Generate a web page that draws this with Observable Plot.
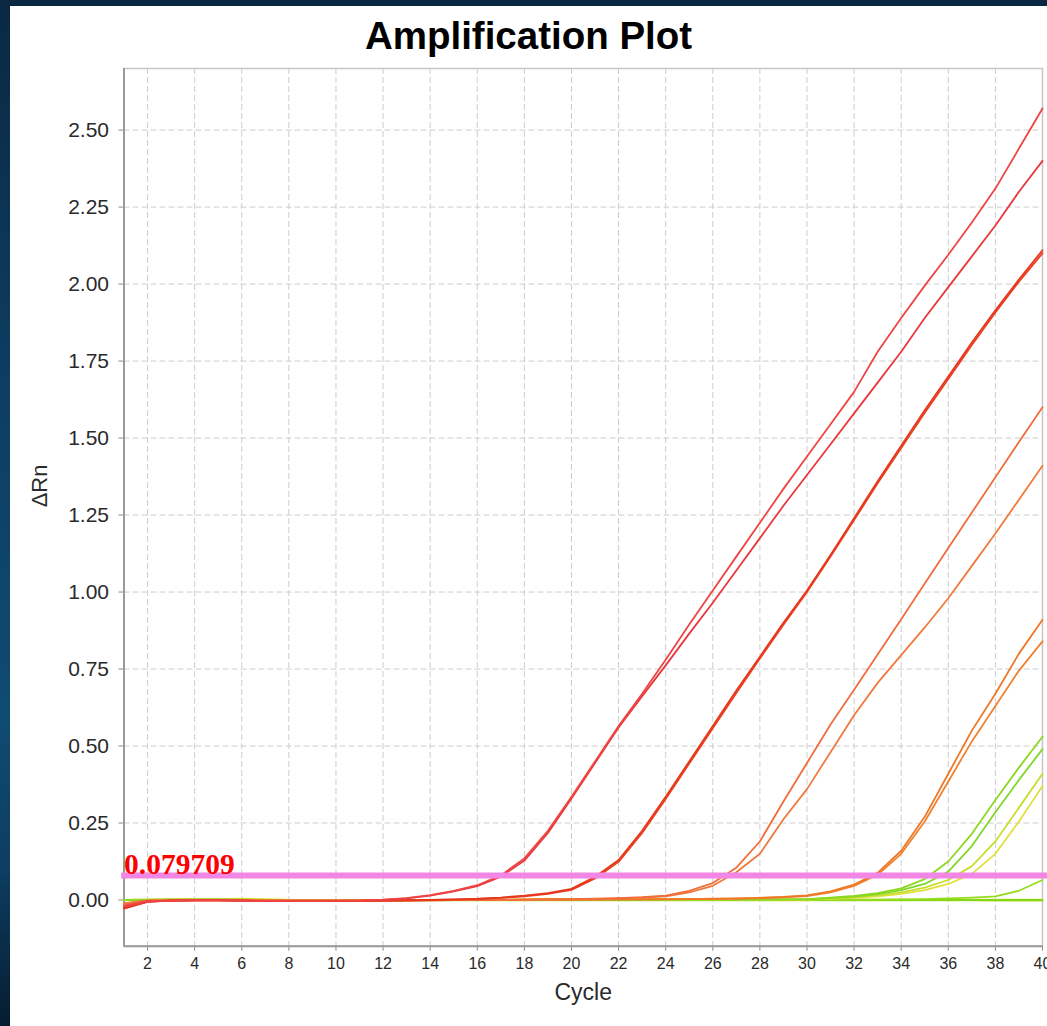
<!DOCTYPE html>
<html>
<head>
<meta charset="utf-8">
<script src="https://cdn.jsdelivr.net/npm/d3@7"></script>
<script src="https://cdn.jsdelivr.net/npm/@observablehq/plot@0.6"></script>
<style>
  html, body { margin: 0; padding: 0; width: 1047px; height: 1026px; overflow: hidden; }
  body {
    position: relative;
    background: linear-gradient(to bottom, #0a2842 0%, #0d3c60 35%, #0f4b73 70%, #0d3d60 85%, #061c30 100%);
    font-family: "Liberation Sans", Arial, sans-serif;
  }
  #panel { position: absolute; left: 10px; top: 6px; right: 0; bottom: 0; background: #ffffff; }
  #title {
    position: absolute; left: 10px; right: 0; top: 14px; height: 44px; line-height: 44px;
    text-align: center; font-size: 38.5px; font-weight: bold; color: #000;
  }
  #chart { position: absolute; left: 0; top: 60px; }
</style>
</head>
<body>
<div id="panel"></div>
<div id="title">Amplification Plot</div>
<div id="chart"></div>
<script>
// ---- data ----
const cycles = [1,2,3,4,5,6,7,8,9,10,11,12,13,14,15,16,17,18,19,20,21,22,23,24,25,26,27,28,29,30,31,32,33,34,35,36,37,38,39,40];
const xTicks = [2,4,6,8,10,12,14,16,18,20,22,24,26,28,30,32,34,36,38,40];
const yTicks = [0, 0.25, 0.5, 0.75, 1.0, 1.25, 1.5, 1.75, 2.0, 2.25, 2.5];
const threshold = 0.079709;

const wellA1 = [-0.020,-0.004,-0.002,-0.001,-0.001,-0.002,-0.003,-0.003,-0.003,-0.003,-0.002,0.001,0.006,0.016,0.030,0.048,0.080,0.135,0.225,0.335,0.450,0.565,0.670,0.780,0.895,1.005,1.115,1.225,1.335,1.440,1.545,1.650,1.780,1.890,1.995,2.095,2.200,2.310,2.440,2.570];
const wellA2 = [-0.024,-0.005,-0.002,-0.001,-0.001,-0.002,-0.003,-0.003,-0.003,-0.003,-0.002,0.000,0.005,0.014,0.028,0.045,0.076,0.128,0.218,0.330,0.445,0.560,0.662,0.762,0.865,0.965,1.070,1.175,1.280,1.380,1.480,1.580,1.680,1.780,1.890,1.990,2.090,2.190,2.300,2.400];
const wellB1 = [-0.026,-0.005,-0.002,-0.001,-0.001,-0.002,-0.003,-0.003,-0.003,-0.003,-0.003,-0.002,-0.001,0.000,0.002,0.004,0.008,0.014,0.022,0.036,0.075,0.130,0.225,0.335,0.450,0.565,0.680,0.790,0.900,1.005,1.120,1.240,1.360,1.475,1.590,1.700,1.810,1.915,2.015,2.110];
const wellB2 = [-0.028,-0.006,-0.002,-0.001,-0.001,-0.002,-0.003,-0.003,-0.003,-0.003,-0.003,-0.002,-0.001,0.000,0.001,0.003,0.007,0.012,0.020,0.033,0.070,0.124,0.218,0.328,0.443,0.558,0.672,0.784,0.894,1.000,1.115,1.234,1.353,1.468,1.582,1.692,1.802,1.908,2.008,2.100];
const wellC1 = [-0.015,-0.003,-0.001,0.000,0.000,-0.001,-0.002,-0.002,-0.002,-0.002,-0.002,-0.002,-0.001,-0.001,0.000,0.000,0.001,0.001,0.002,0.003,0.004,0.006,0.009,0.014,0.030,0.055,0.105,0.190,0.320,0.445,0.570,0.683,0.797,0.912,1.028,1.143,1.258,1.373,1.487,1.600];
const wellC2 = [-0.012,-0.002,-0.001,0.000,0.000,-0.001,-0.002,-0.002,-0.002,-0.002,-0.002,-0.002,-0.001,-0.001,0.000,0.000,0.000,0.001,0.002,0.002,0.003,0.005,0.008,0.012,0.025,0.046,0.090,0.150,0.262,0.360,0.480,0.600,0.705,0.795,0.885,0.980,1.085,1.190,1.300,1.410];
const wellD1 = [-0.010,-0.002,-0.001,0.000,0.000,0.000,-0.001,-0.001,-0.001,-0.001,-0.001,-0.001,-0.001,0.000,0.000,0.000,0.000,0.001,0.001,0.001,0.002,0.002,0.002,0.003,0.003,0.004,0.005,0.007,0.010,0.015,0.028,0.050,0.088,0.160,0.270,0.410,0.550,0.670,0.800,0.910];
const wellD2 = [-0.012,-0.002,-0.001,0.000,0.000,0.000,-0.001,-0.001,-0.001,-0.001,-0.001,-0.001,-0.001,0.000,0.000,0.000,0.000,0.000,0.001,0.001,0.001,0.002,0.002,0.002,0.003,0.003,0.004,0.006,0.009,0.013,0.025,0.046,0.082,0.150,0.255,0.385,0.515,0.630,0.745,0.840];
const wellE1 = [0.000,0.000,0.001,0.001,0.001,0.001,0.000,0.000,0.000,0.000,0.000,0.000,0.000,0.000,0.000,0.000,0.000,0.000,0.000,0.000,0.000,0.001,0.001,0.001,0.001,0.001,0.001,0.002,0.002,0.003,0.008,0.013,0.022,0.038,0.068,0.125,0.215,0.325,0.430,0.530];
const wellE2 = [0.000,0.000,0.001,0.001,0.001,0.000,0.000,0.000,0.000,0.000,0.000,0.000,0.000,0.000,0.000,0.000,0.000,0.000,0.000,0.000,0.000,0.000,0.001,0.001,0.001,0.001,0.001,0.001,0.002,0.002,0.006,0.011,0.019,0.032,0.052,0.092,0.175,0.285,0.390,0.490];
const wellE3 = [0.000,0.001,0.001,0.001,0.002,0.003,0.001,0.000,0.000,0.000,0.000,0.000,0.000,0.000,0.000,0.000,0.000,0.001,0.002,0.002,0.001,0.001,0.001,0.001,0.001,0.001,0.001,0.001,0.001,0.002,0.005,0.009,0.015,0.025,0.040,0.065,0.110,0.190,0.300,0.410];
const wellE4 = [0.000,0.001,0.001,0.002,0.002,0.003,0.001,0.000,0.000,0.000,0.000,0.000,0.000,0.000,0.000,0.000,0.000,0.001,0.001,0.001,0.001,0.001,0.001,0.001,0.001,0.001,0.001,0.001,0.001,0.001,0.004,0.007,0.012,0.020,0.032,0.052,0.085,0.150,0.255,0.370];
const wellF  = [0.000,0.000,0.000,0.000,0.000,0.000,0.000,0.000,0.000,0.000,0.000,0.000,0.000,0.000,0.000,0.000,0.000,0.000,0.000,0.000,0.000,0.000,0.000,0.000,0.000,0.000,0.000,0.000,0.000,0.001,0.001,0.001,0.001,0.002,0.003,0.005,0.008,0.012,0.030,0.065];
const wellG1 = [0.000,0.000,0.000,0.001,0.001,0.001,0.000,0.000,0.000,0.000,0.000,0.000,0.000,0.000,0.000,0.000,0.000,0.000,0.000,0.000,0.000,0.000,0.000,0.000,0.000,0.000,0.000,0.000,0.000,0.000,0.000,0.000,0.000,0.000,0.000,0.000,0.000,0.000,0.000,0.000];
const wellG2 = [0.000,0.001,0.002,0.002,0.003,0.004,0.002,0.000,0.000,0.000,0.000,0.000,0.000,0.000,0.000,0.000,0.001,0.002,0.004,0.003,0.001,0.001,0.002,0.003,0.002,0.001,0.000,0.000,0.000,0.000,0.000,0.001,0.001,0.001,0.001,0.001,0.001,0.001,0.001,0.001];
const wellG3 = [0.000,0.000,0.001,0.001,0.001,0.001,0.000,0.000,0.000,-0.001,-0.001,-0.001,-0.001,-0.001,-0.001,-0.001,-0.001,-0.001,-0.001,-0.001,-0.001,-0.001,-0.001,-0.001,-0.001,-0.001,-0.001,-0.001,-0.001,-0.001,-0.001,-0.001,-0.001,-0.001,-0.001,-0.001,-0.001,-0.002,-0.002,-0.002];

// draw order (bottom to top) and colours
const wellNames = ["G2","G3","G1","F","E4","E3","E2","E1","D2","D1","C2","C1","B2","B1","A2","A1"];
const wellValues = [wellG2, wellG3, wellG1, wellF, wellE4, wellE3, wellE2, wellE1, wellD2, wellD1, wellC2, wellC1, wellB2, wellB1, wellA2, wellA1];
const wellColors = ["#e4e030","#b4dc22","#84d81a","#96dc1e","#e2e03c","#c8de2c","#82d62a","#8cd820","#ef8232","#ef7826","#f07a3e","#f26c3c","#ea4222","#e6381c","#e8383e","#ee4444"];

const rows = [];
wellNames.forEach((name, i) => {
  cycles.forEach((c, j) => rows.push({well: name, cycle: c, value: wellValues[i][j]}));
});

const gridStyle = {stroke: "#cdcdcd", strokeOpacity: 1, strokeWidth: 1, strokeDasharray: "6,3"};

const lineMarks = wellNames.map((name, i) =>
  Plot.line(rows.filter(r => r.well === name), {
    x: "cycle", y: "value", stroke: wellColors[i], strokeWidth: 1.8
  })
);

const chart = Plot.plot({
  width: 1047,
  height: 966,
  marginTop: 8,
  marginBottom: 80.3,
  marginLeft: 123.5,
  marginRight: 5,
  style: {background: "transparent", fontFamily: "'Liberation Sans', Arial, sans-serif", color: "#2a2a2a", overflow: "visible"},
  x: {domain: [1, 40]},
  y: {domain: [-0.15, 2.70]},
  marks: [
    Plot.gridX(xTicks, gridStyle),
    Plot.gridY(yTicks, gridStyle),
    Plot.frame({stroke: "#c6c6c6", strokeWidth: 1.5}),
    Plot.axisX(xTicks, {tickSize: 5, tickPadding: 6, fontSize: 16, label: null, stroke: "#8a8a8a", fill: "#2a2a2a"}),
    Plot.axisY(yTicks, {tickSize: 5, tickPadding: 10, fontSize: 21, label: null, tickFormat: d3.format(".2f"), stroke: "#8a8a8a", fill: "#2a2a2a"}),
    Plot.ruleX([1], {stroke: "#9a9a9a", strokeWidth: 2}),
    Plot.ruleY([-0.15], {stroke: "#9a9a9a", strokeWidth: 2}),
    ...lineMarks,
    Plot.ruleY([threshold], {x1: () => 0.9, x2: () => 40.3, stroke: "#f286e4", strokeWidth: 6}),
    Plot.text([threshold], {x: () => 1, y: d => d, text: d => String(d), textAnchor: "start", dx: 0, dy: -11,
      fill: "#ff0000", fontFamily: "'Liberation Serif', 'Times New Roman', serif", fontWeight: "bold", fontSize: 29.5}),
    Plot.text(["ΔRn"], {text: d => d, frameAnchor: "left", dx: -84.5, rotate: -90, fontSize: 22, fill: "#2a2a2a"}),
    Plot.text(["Cycle"], {text: d => d, frameAnchor: "bottom", dy: 54, fontSize: 23, fill: "#2a2a2a"})
  ]
});
document.getElementById("chart").appendChild(chart);
</script>
</body>
</html>
